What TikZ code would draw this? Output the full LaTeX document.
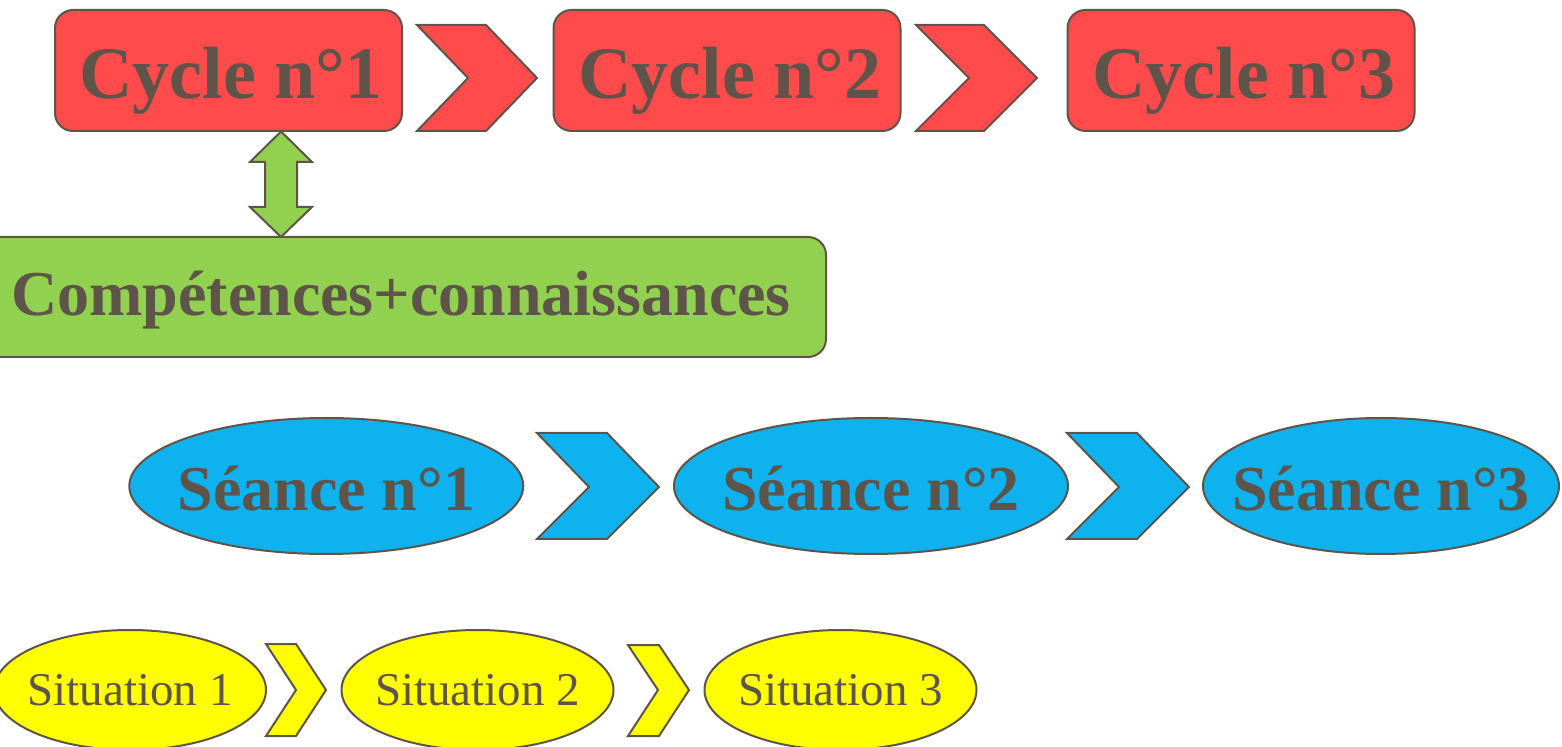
\documentclass[tikz,border=0pt]{standalone}
\usepackage{fontspec}
\setmainfont{Liberation Serif}
\usetikzlibrary{shapes.geometric}
\definecolor{ink}{HTML}{5E544A}
\definecolor{redf}{HTML}{FF4B4B}
\definecolor{greenf}{HTML}{92D050}
\definecolor{bluef}{HTML}{0EB2EE}
\definecolor{yelf}{HTML}{FFFF00}
\begin{document}
\begin{tikzpicture}[x=0.5pt,y=-0.5pt,
  outl/.style={draw=ink, line width=1pt, line join=miter},
  cycbox/.style={outl, fill=redf, rounded corners=9pt, minimum width=173.5pt, minimum height=60.5pt, inner sep=0pt},
  compbox/.style={outl, fill=greenf, rounded corners=9pt, minimum width=425.5pt, minimum height=60pt, inner sep=0pt},
  seanceell/.style={outl, fill=bluef, ellipse, minimum height=68pt, inner sep=0pt},
  sitell/.style={outl, fill=yelf, ellipse, minimum width=136pt, minimum height=60pt, inner sep=0pt},
  redchev/.style={outl, fill=redf},
  bluechev/.style={outl, fill=bluef},
  yelchev/.style={outl, fill=yelf},
  dblarrow/.style={outl, fill=greenf},
  cyctext/.style={text=ink, inner sep=0pt, font=\bfseries\fontsize{37}{40}\selectfont, text height=28pt, text depth=0pt},
  seantext/.style={text=ink, inner sep=0pt, font=\bfseries\fontsize{32}{36}\selectfont, text height=25pt, text depth=0pt},
  comptext/.style={text=ink, inner sep=0pt, font=\bfseries\fontsize{32}{36}\selectfont, text height=19pt, text depth=0pt},
  smalltext/.style={text=ink, inner sep=0pt, font=\fontsize{23.5}{26}\selectfont, text height=15.6pt, text depth=0pt}]
\useasboundingbox (0,0) rectangle (1562,747);

% Cycles
\node[cycbox] (c1) at (228.5,70.5) {};
\node[cycbox] (c2) at (727,70.5) {};
\node[cycbox] (c3) at (1241,70.5) {};
\node[cyctext] (c1t) at (231,70.5) {Cycle n°1};
\node[cyctext] (c2t) at (730,70.5) {Cycle n°2};
\node[cyctext] (c3t) at (1244,70.5) {Cycle n°3};
\draw[redchev] (417,25) -- (486,25) -- (537,78) -- (486,131) -- (417,131) -- (468,78) -- cycle;
\draw[redchev] (916,25) -- (984,25) -- (1037,78) -- (984,131) -- (916,131) -- (969,78) -- cycle;

% Competences
\node[compbox] (comp) at (400.5,297) {};
\node[comptext] (compt) at (401,297) {Compétences+connaissances};
\draw[dblarrow] (281,131.5) -- (312,162) -- (297,162) -- (297,207) -- (312,207) -- (281,237) -- (250,207) -- (265,207) -- (265,162) -- (250,162) -- cycle;

% Seances
\node[seanceell, minimum width=197pt] (s1) at (326.3,486) {};
\node[seanceell, minimum width=197pt] (s2) at (871,486) {};
\node[seanceell, minimum width=178pt] (s3) at (1381,486) {};
\node[seantext] (s1t) at (s1) {Séance n°1};
\node[seantext] (s2t) at (s2) {Séance n°2};
\node[seantext] (s3t) at (s3) {Séance n°3};
\draw[bluechev] (537,433) -- (607,433) -- (659,487) -- (607,539) -- (537,539) -- (589,487) -- cycle;
\draw[bluechev] (1067,433) -- (1137,433) -- (1189,487) -- (1137,539) -- (1067,539) -- (1119,487) -- cycle;

% Situations
\node[sitell] (t1) at (130,690) {};
\node[sitell] (t2) at (477.5,690) {};
\node[sitell] (t3) at (840.5,690) {};
\node[smalltext] (t1t) at (t1) {Situation 1};
\node[smalltext] (t2t) at (t2) {Situation 2};
\node[smalltext] (t3t) at (t3) {Situation 3};
\draw[yelchev] (266,644) -- (296,644) -- (326,690) -- (296,736) -- (266,736) -- (296,690) -- cycle;
\draw[yelchev] (628,645) -- (659,645) -- (689,690) -- (659,736) -- (628,736) -- (658,690) -- cycle;
\end{tikzpicture}
\end{document}
